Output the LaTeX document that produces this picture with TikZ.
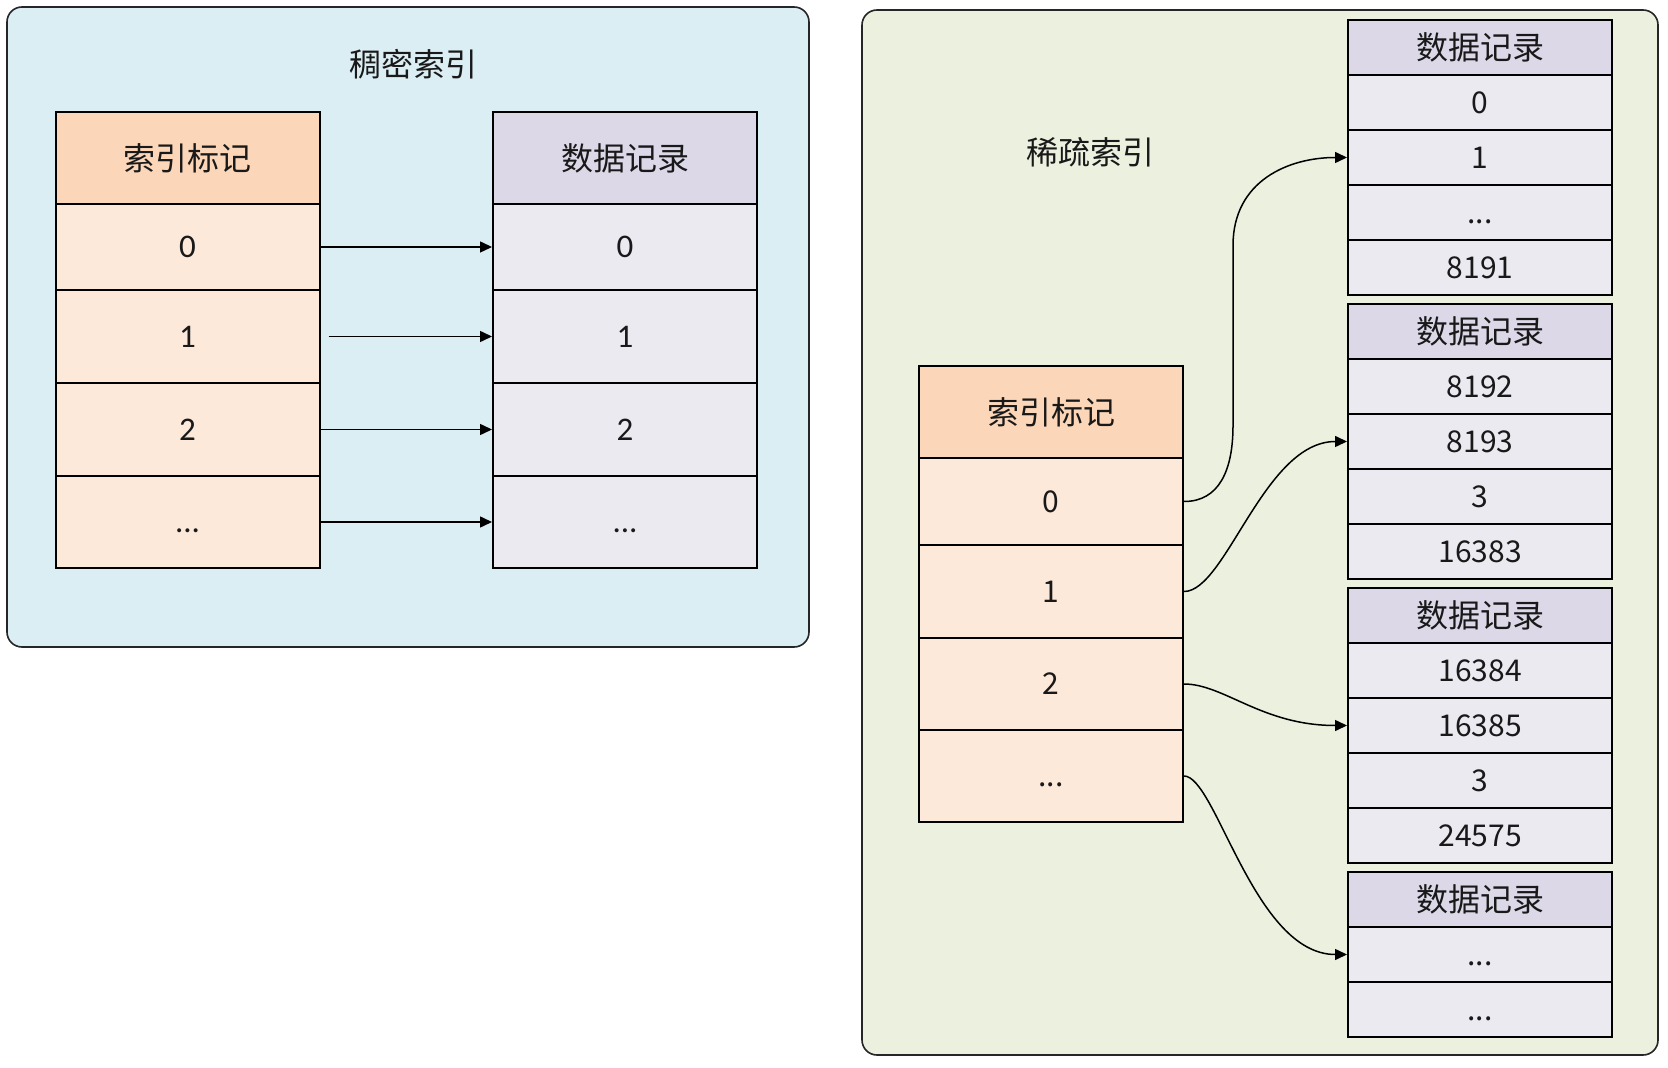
\documentclass[tikz,border=0pt]{standalone}
\usepackage{fontspec}
\newfontfamily\cjk{Noto Sans CJK SC}
\newfontfamily\calfont{Carlito}
\usetikzlibrary{arrows.meta}
\definecolor{panelA}{RGB}{219,238,244}
\definecolor{panelB}{RGB}{235,241,222}
\definecolor{iheadc}{RGB}{251,214,184}
\definecolor{irowc}{RGB}{253,233,217}
\definecolor{dheadc}{RGB}{220,216,232}
\definecolor{drowc}{RGB}{236,234,241}
\definecolor{txt}{RGB}{25,25,25}
\newcommand\mydots{\vphantom{0}...}
\begin{document}
\begin{tikzpicture}[x=0.5pt,y=-0.5pt,
  panel/.style={draw=black!85, line width=0.8pt, rounded corners=7.5pt},
  cell/.style={draw=black, line width=1pt, inner sep=0pt, minimum width=132pt, anchor=center, text=txt},
  ihead/.style={cell, fill=iheadc, font=\cjk\fontsize{16pt}{18pt}\selectfont},
  irowL/.style={cell, fill=irowc, font=\calfont\fontsize{16.5pt}{18pt}\selectfont},
  drowL/.style={cell, fill=drowc, font=\calfont\fontsize{16.5pt}{18pt}\selectfont},
  dhead/.style={cell, fill=dheadc, font=\cjk\fontsize{16pt}{18pt}\selectfont},
  irowR/.style={cell, fill=irowc, font=\cjk\fontsize{15pt}{17pt}\selectfont},
  drowR/.style={cell, fill=drowc, minimum height=27.5pt, font=\cjk\fontsize{15pt}{17pt}\selectfont},
  bhead/.style={dhead, minimum height=27.5pt},
  ttl/.style={font=\cjk\fontsize{16pt}{18pt}\selectfont, text=txt, inner sep=0pt},
  arr/.style={line width=0.75pt, -{Triangle[length=6pt,width=5.5pt]}}
]
\useasboundingbox (0,0) rectangle (1668,1068);
\fill[white] (0,0) rectangle (1668,1068);

% panels
\draw[panel, fill=panelA] (7,7) rectangle (809,647);
\draw[panel, fill=panelB] (862,10) rectangle (1658,1055);

\node[ttl] (t1) at (413,64) {稠密索引};
\node[ttl] (t2) at (1090,152) {稀疏索引};

% dense index
\node[ihead, minimum height=46pt]   (ah) at (187.5,158)   {索引标记};
\node[irowL, minimum height=43pt]   (a0) at (187.5,247)   {0};
\node[irowL, minimum height=46.5pt] (a1) at (187.5,336.5) {1};
\node[irowL, minimum height=46.5pt] (a2) at (187.5,429.5) {2};
\node[irowL, minimum height=46pt]   (a3) at (187.5,522)   {\mydots};

\node[dhead, minimum height=46pt]   (dh) at (625,158)   {数据记录};
\node[drowL, minimum height=43pt]   (d0) at (625,247)   {0};
\node[drowL, minimum height=46.5pt] (d1) at (625,336.5) {1};
\node[drowL, minimum height=46.5pt] (d2) at (625,429.5) {2};
\node[drowL, minimum height=46pt]   (d3) at (625,522)   {\mydots};

\draw[arr] (a0.east) -- (d0.west);
\draw[arr] ([xshift=4pt]a1.east) -- (d1.west);
\draw[arr] (a2.east) -- (d2.west);
\draw[arr] (a3.east) -- (d3.west);

% sparse index
\node[ihead, minimum height=46pt]   (sh) at (1051,412)   {索引标记};
\node[irowR, minimum height=43.5pt] (s0) at (1051,501.5) {0};
\node[irowR, minimum height=46.5pt] (s1) at (1051,591.5) {1};
\node[irowR, minimum height=46pt]   (s2) at (1051,684)   {2};
\node[irowR, minimum height=46pt]   (s3) at (1051,776)   {\mydots};

% blocks
\node[bhead] (b0h)  at (1480,47.5)  {数据记录};
\node[drowR] (b0r0) at (1480,102.5) {0};
\node[drowR] (b0r1) at (1480,157.5) {1};
\node[drowR] (b0r2) at (1480,212.5) {\mydots};
\node[drowR] (b0r3) at (1480,267.5) {8191};

\node[bhead] (b1h)  at (1480,331.5) {数据记录};
\node[drowR] (b1r0) at (1480,386.5) {8192};
\node[drowR] (b1r1) at (1480,441.5) {8193};
\node[drowR] (b1r2) at (1480,496.5) {3};
\node[drowR] (b1r3) at (1480,551.5) {16383};

\node[bhead] (b2h)  at (1480,615.5) {数据记录};
\node[drowR] (b2r0) at (1480,670.5) {16384};
\node[drowR] (b2r1) at (1480,725.5) {16385};
\node[drowR] (b2r2) at (1480,780.5) {3};
\node[drowR] (b2r3) at (1480,835.5) {24575};

\node[bhead] (b3h)  at (1480,899.5)  {数据记录};
\node[drowR] (b3r0) at (1480,954.5)  {\mydots};
\node[drowR] (b3r1) at (1480,1009.5) {\mydots};

% sparse arrows
\draw[arr] (s0.east) .. controls +(35,0) and +(0,45) .. ++(49,-76)
  -- ++(0,-180) .. controls +(0,-65) and +(-58,0) .. (b0r1.west);
\draw[arr] (s1.east) .. controls +(42,0) and +(-83,0) .. (b1r1.west);
\draw[arr] (s2.east) .. controls +(40,0) and +(-85,0) .. (b2r1.west);
\draw[arr] (s3.east) .. controls +(32,0) and +(-93,0) .. (b3r0.west);
\end{tikzpicture}
\end{document}
